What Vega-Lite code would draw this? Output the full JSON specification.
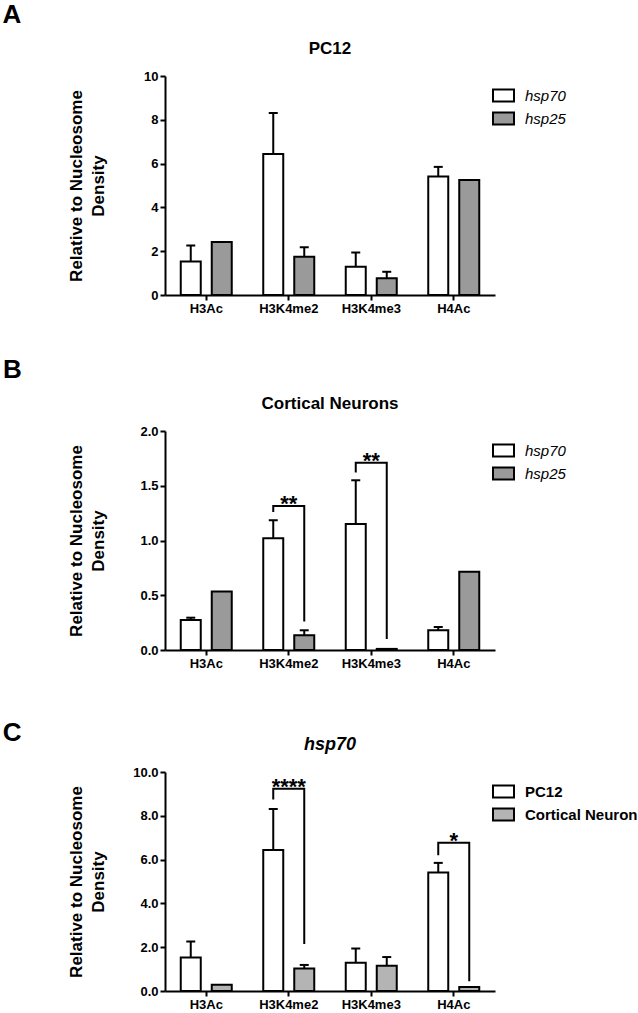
{
  "$schema": "https://vega.github.io/schema/vega-lite/v6.json",
  "padding": {"left": 2, "top": 2, "right": 0, "bottom": 0},
  "spacing": 42,
  "resolve": {"scale": {"fill": "independent", "xOffset": "independent"}, "legend": {"fill": "independent"}},
  "config": {
    "font": "Liberation Sans",
    "view": {"stroke": null},
    "axis": {"domainColor": "black", "domainWidth": 2, "tickColor": "black", "tickWidth": 2, "tickSize": 5, "labelFontSize": 13, "labelFontWeight": "bold", "labelColor": "black", "labelPadding": 2, "titleFontSize": 17, "titleFontWeight": "bold", "titleColor": "black", "titleLineHeight": 22, "grid": false},
    "axisX": {"labelAngle": 0},
    "legend": {"orient": "right", "offset": -11, "padding": 8, "symbolType": "M-1,-0.57H1V0.57H-1Z", "symbolSize": 441, "symbolStrokeColor": "black", "symbolStrokeWidth": 2, "labelFontSize": 15, "labelColor": "black", "labelOffset": 10, "rowPadding": 1},
    "title": {"fontSize": 17, "fontWeight": "bold", "color": "black", "frame": "group", "anchor": "middle", "offset": 12}
  },
  "datasets": {
    "A": [
      {"mark": "H3Ac", "series": "hsp70", "mean": 1.53, "err": 2.26},
      {"mark": "H3Ac", "series": "hsp25", "mean": 2.42, "err": null},
      {"mark": "H3K4me2", "series": "hsp70", "mean": 6.44, "err": 8.31},
      {"mark": "H3K4me2", "series": "hsp25", "mean": 1.75, "err": 2.18},
      {"mark": "H3K4me3", "series": "hsp70", "mean": 1.29, "err": 1.94},
      {"mark": "H3K4me3", "series": "hsp25", "mean": 0.76, "err": 1.06},
      {"mark": "H4Ac", "series": "hsp70", "mean": 5.41, "err": 5.85},
      {"mark": "H4Ac", "series": "hsp25", "mean": 5.25, "err": null}
    ],
    "B": [
      {"mark": "H3Ac", "series": "hsp70", "mean": 0.275, "err": 0.295},
      {"mark": "H3Ac", "series": "hsp25", "mean": 0.535, "err": null},
      {"mark": "H3K4me2", "series": "hsp70", "mean": 1.02, "err": 1.185},
      {"mark": "H3K4me2", "series": "hsp25", "mean": 0.134, "err": 0.18},
      {"mark": "H3K4me3", "series": "hsp70", "mean": 1.15, "err": 1.55},
      {"mark": "H3K4me3", "series": "hsp25", "mean": 0.01, "err": null},
      {"mark": "H4Ac", "series": "hsp70", "mean": 0.18, "err": 0.21},
      {"mark": "H4Ac", "series": "hsp25", "mean": 0.715, "err": null}
    ],
    "C": [
      {"mark": "H3Ac", "series": "PC12", "mean": 1.53, "err": 2.26},
      {"mark": "H3Ac", "series": "Cortical Neuron", "mean": 0.28, "err": null},
      {"mark": "H3K4me2", "series": "PC12", "mean": 6.44, "err": 8.31},
      {"mark": "H3K4me2", "series": "Cortical Neuron", "mean": 1.03, "err": 1.19},
      {"mark": "H3K4me3", "series": "PC12", "mean": 1.29, "err": 1.94},
      {"mark": "H3K4me3", "series": "Cortical Neuron", "mean": 1.15, "err": 1.55},
      {"mark": "H4Ac", "series": "PC12", "mean": 5.41, "err": 5.85},
      {"mark": "H4Ac", "series": "Cortical Neuron", "mean": 0.18, "err": null}
    ],
    "Bbr": [
      {"id": "b1", "ord": 1, "mark": "H3K4me2", "series": "hsp70", "y": 1.26},
      {"id": "b1", "ord": 2, "mark": "H3K4me2", "series": "hsp70", "y": 1.316},
      {"id": "b1", "ord": 3, "mark": "H3K4me2", "series": "hsp25", "y": 1.316},
      {"id": "b1", "ord": 4, "mark": "H3K4me2", "series": "hsp25", "y": 0.26},
      {"id": "b2", "ord": 1, "mark": "H3K4me3", "series": "hsp70", "y": 1.62},
      {"id": "b2", "ord": 2, "mark": "H3K4me3", "series": "hsp70", "y": 1.71},
      {"id": "b2", "ord": 3, "mark": "H3K4me3", "series": "hsp25", "y": 1.71},
      {"id": "b2", "ord": 4, "mark": "H3K4me3", "series": "hsp25", "y": 0.10}
    ],
    "Bstar": [
      {"mark": "H3K4me2", "y": 1.316, "label": "**"},
      {"mark": "H3K4me3", "y": 1.71, "label": "**"}
    ],
    "Cbr": [
      {"id": "c1", "ord": 1, "mark": "H3K4me2", "series": "PC12", "y": 8.74},
      {"id": "c1", "ord": 2, "mark": "H3K4me2", "series": "PC12", "y": 9.23},
      {"id": "c1", "ord": 3, "mark": "H3K4me2", "series": "Cortical Neuron", "y": 9.23},
      {"id": "c1", "ord": 4, "mark": "H3K4me2", "series": "Cortical Neuron", "y": 2.15},
      {"id": "c2", "ord": 1, "mark": "H4Ac", "series": "PC12", "y": 6.2},
      {"id": "c2", "ord": 2, "mark": "H4Ac", "series": "PC12", "y": 6.77},
      {"id": "c2", "ord": 3, "mark": "H4Ac", "series": "Cortical Neuron", "y": 6.77},
      {"id": "c2", "ord": 4, "mark": "H4Ac", "series": "Cortical Neuron", "y": 0.45}
    ],
    "Cstar": [
      {"mark": "H3K4me2", "y": 9.23, "label": "****"},
      {"mark": "H4Ac", "y": 6.77, "label": "*"}
    ]
  },
  "vconcat": [
    {
      "title": {"text": "A", "anchor": "start", "frame": "bounds", "fontSize": 26, "dx": -65, "offset": 12},
      "resolve": {"scale": {"fill": "independent", "xOffset": "independent"}, "legend": {"fill": "independent"}},
      "vconcat": [
        {
          "title": {"text": "PC12"},
          "width": 330, "height": 219,
          "data": {"name": "A"},
          "layer": [
            {
              "mark": {"type": "bar", "stroke": "black", "strokeWidth": 2},
              "encoding": {
                "x": {"field": "mark", "type": "nominal", "title": null, "scale": {"domain": ["H3Ac", "H3K4me2", "H3K4me3", "H4Ac"], "paddingInner": 0, "paddingOuter": 0}},
                "xOffset": {"field": "series", "type": "nominal", "scale": {"domain": ["hsp70", "hsp25"], "paddingInner": 0.355, "paddingOuter": 0.508}},
                "y": {"field": "mean", "type": "quantitative", "title": ["Relative to Nucleosome", "Density"], "scale": {"domain": [0, 10], "nice": false}, "axis": {"values": [0, 2, 4, 6, 8, 10], "titlePadding": 36}},
                "fill": {"field": "series", "type": "nominal", "scale": {"domain": ["hsp70", "hsp25"], "range": ["white", "#9a9a9a"]}, "legend": {"title": null, "labelFontStyle": "italic"}}
              }
            },
            {
              "transform": [{"filter": "datum.err != null"}],
              "mark": {"type": "rule", "color": "black", "strokeWidth": 2},
              "encoding": {
                "x": {"field": "mark", "type": "nominal", "title": null},
                "xOffset": {"field": "series", "type": "nominal"},
                "y": {"field": "mean", "type": "quantitative", "title": ["Relative to Nucleosome", "Density"]},
                "y2": {"field": "err"}
              }
            },
            {
              "transform": [{"filter": "datum.err != null"}],
              "mark": {"type": "tick", "color": "black", "thickness": 2, "size": 9, "opacity": 1},
              "encoding": {
                "x": {"field": "mark", "type": "nominal", "title": null},
                "xOffset": {"field": "series", "type": "nominal"},
                "y": {"field": "err", "type": "quantitative", "title": ["Relative to Nucleosome", "Density"]}
              }
            }
          ]
        }
      ]
    },
    {
      "spacing": 50,
      "resolve": {"scale": {"fill": "independent", "xOffset": "independent"}, "legend": {"fill": "independent"}},
      "vconcat": [
        {
          "title": {"text": "B", "anchor": "start", "frame": "bounds", "fontSize": 26, "dx": -65, "offset": 12},
          "resolve": {"scale": {"fill": "independent", "xOffset": "independent"}, "legend": {"fill": "independent"}},
          "vconcat": [
            {
              "title": {"text": "Cortical Neurons"},
              "width": 330, "height": 219,
              "data": {"name": "B"},
              "layer": [
                {
                  "mark": {"type": "bar", "stroke": "black", "strokeWidth": 2},
                  "encoding": {
                    "x": {"field": "mark", "type": "nominal", "title": null, "scale": {"domain": ["H3Ac", "H3K4me2", "H3K4me3", "H4Ac"], "paddingInner": 0, "paddingOuter": 0}},
                    "xOffset": {"field": "series", "type": "nominal", "scale": {"domain": ["hsp70", "hsp25"], "paddingInner": 0.355, "paddingOuter": 0.508}},
                    "y": {"field": "mean", "type": "quantitative", "title": ["Relative to Nucleosome", "Density"], "scale": {"domain": [0, 2], "nice": false}, "axis": {"values": [0, 0.5, 1, 1.5, 2], "format": ".1f", "titlePadding": 32}},
                    "fill": {"field": "series", "type": "nominal", "scale": {"domain": ["hsp70", "hsp25"], "range": ["white", "#9a9a9a"]}, "legend": {"title": null, "labelFontStyle": "italic"}}
                  }
                },
                {
                  "transform": [{"filter": "datum.err != null"}],
                  "mark": {"type": "rule", "color": "black", "strokeWidth": 2},
                  "encoding": {
                    "x": {"field": "mark", "type": "nominal", "title": null},
                    "xOffset": {"field": "series", "type": "nominal"},
                    "y": {"field": "mean", "type": "quantitative", "title": ["Relative to Nucleosome", "Density"]},
                    "y2": {"field": "err"}
                  }
                },
                {
                  "transform": [{"filter": "datum.err != null"}],
                  "mark": {"type": "tick", "color": "black", "thickness": 2, "size": 9, "opacity": 1},
                  "encoding": {
                    "x": {"field": "mark", "type": "nominal", "title": null},
                    "xOffset": {"field": "series", "type": "nominal"},
                    "y": {"field": "err", "type": "quantitative", "title": ["Relative to Nucleosome", "Density"]}
                  }
                },
                {
                  "data": {"name": "Bbr"},
                  "mark": {"type": "line", "color": "black", "strokeWidth": 2},
                  "encoding": {
                    "x": {"field": "mark", "type": "nominal", "title": null},
                    "xOffset": {"field": "series", "type": "nominal"},
                    "y": {"field": "y", "type": "quantitative", "title": ["Relative to Nucleosome", "Density"]},
                    "detail": {"field": "id"},
                    "order": {"field": "ord", "type": "quantitative"}
                  }
                },
                {
                  "data": {"name": "Bstar"},
                  "mark": {"type": "text", "fontSize": 22, "fontWeight": "bold", "baseline": "alphabetic", "dy": 5, "color": "black"},
                  "encoding": {
                    "x": {"field": "mark", "type": "nominal", "title": null},
                    "y": {"field": "y", "type": "quantitative", "title": ["Relative to Nucleosome", "Density"]},
                    "text": {"field": "label"}
                  }
                }
              ]
            }
          ]
        },
        {
          "title": {"text": "C", "anchor": "start", "frame": "bounds", "fontSize": 26, "dx": -65, "offset": -10},
          "resolve": {"scale": {"fill": "independent", "xOffset": "independent"}, "legend": {"fill": "independent"}},
          "vconcat": [
            {
              "title": {"text": "hsp70", "fontStyle": "italic", "fontSize": 18},
              "width": 330, "height": 219,
              "data": {"name": "C"},
              "layer": [
                {
                  "mark": {"type": "bar", "stroke": "black", "strokeWidth": 2},
                  "encoding": {
                    "x": {"field": "mark", "type": "nominal", "title": null, "scale": {"domain": ["H3Ac", "H3K4me2", "H3K4me3", "H4Ac"], "paddingInner": 0, "paddingOuter": 0}},
                    "xOffset": {"field": "series", "type": "nominal", "scale": {"domain": ["PC12", "Cortical Neuron"], "paddingInner": 0.355, "paddingOuter": 0.508}},
                    "y": {"field": "mean", "type": "quantitative", "title": ["Relative to Nucleosome", "Density"], "scale": {"domain": [0, 10], "nice": false}, "axis": {"values": [0, 2, 4, 6, 8, 10], "format": ".1f", "titlePadding": 25}},
                    "fill": {"field": "series", "type": "nominal", "scale": {"domain": ["PC12", "Cortical Neuron"], "range": ["white", "#b4b4b4"]}, "legend": {"title": null, "labelFontWeight": "bold"}}
                  }
                },
                {
                  "transform": [{"filter": "datum.err != null"}],
                  "mark": {"type": "rule", "color": "black", "strokeWidth": 2},
                  "encoding": {
                    "x": {"field": "mark", "type": "nominal", "title": null},
                    "xOffset": {"field": "series", "type": "nominal"},
                    "y": {"field": "mean", "type": "quantitative", "title": ["Relative to Nucleosome", "Density"]},
                    "y2": {"field": "err"}
                  }
                },
                {
                  "transform": [{"filter": "datum.err != null"}],
                  "mark": {"type": "tick", "color": "black", "thickness": 2, "size": 9, "opacity": 1},
                  "encoding": {
                    "x": {"field": "mark", "type": "nominal", "title": null},
                    "xOffset": {"field": "series", "type": "nominal"},
                    "y": {"field": "err", "type": "quantitative", "title": ["Relative to Nucleosome", "Density"]}
                  }
                },
                {
                  "data": {"name": "Cbr"},
                  "mark": {"type": "line", "color": "black", "strokeWidth": 2},
                  "encoding": {
                    "x": {"field": "mark", "type": "nominal", "title": null},
                    "xOffset": {"field": "series", "type": "nominal"},
                    "y": {"field": "y", "type": "quantitative", "title": ["Relative to Nucleosome", "Density"]},
                    "detail": {"field": "id"},
                    "order": {"field": "ord", "type": "quantitative"}
                  }
                },
                {
                  "data": {"name": "Cstar"},
                  "mark": {"type": "text", "fontSize": 22, "fontWeight": "bold", "baseline": "alphabetic", "dy": 5, "color": "black"},
                  "encoding": {
                    "x": {"field": "mark", "type": "nominal", "title": null},
                    "y": {"field": "y", "type": "quantitative", "title": ["Relative to Nucleosome", "Density"]},
                    "text": {"field": "label"}
                  }
                }
              ]
            }
          ]
        }
      ]
    }
  ]
}
